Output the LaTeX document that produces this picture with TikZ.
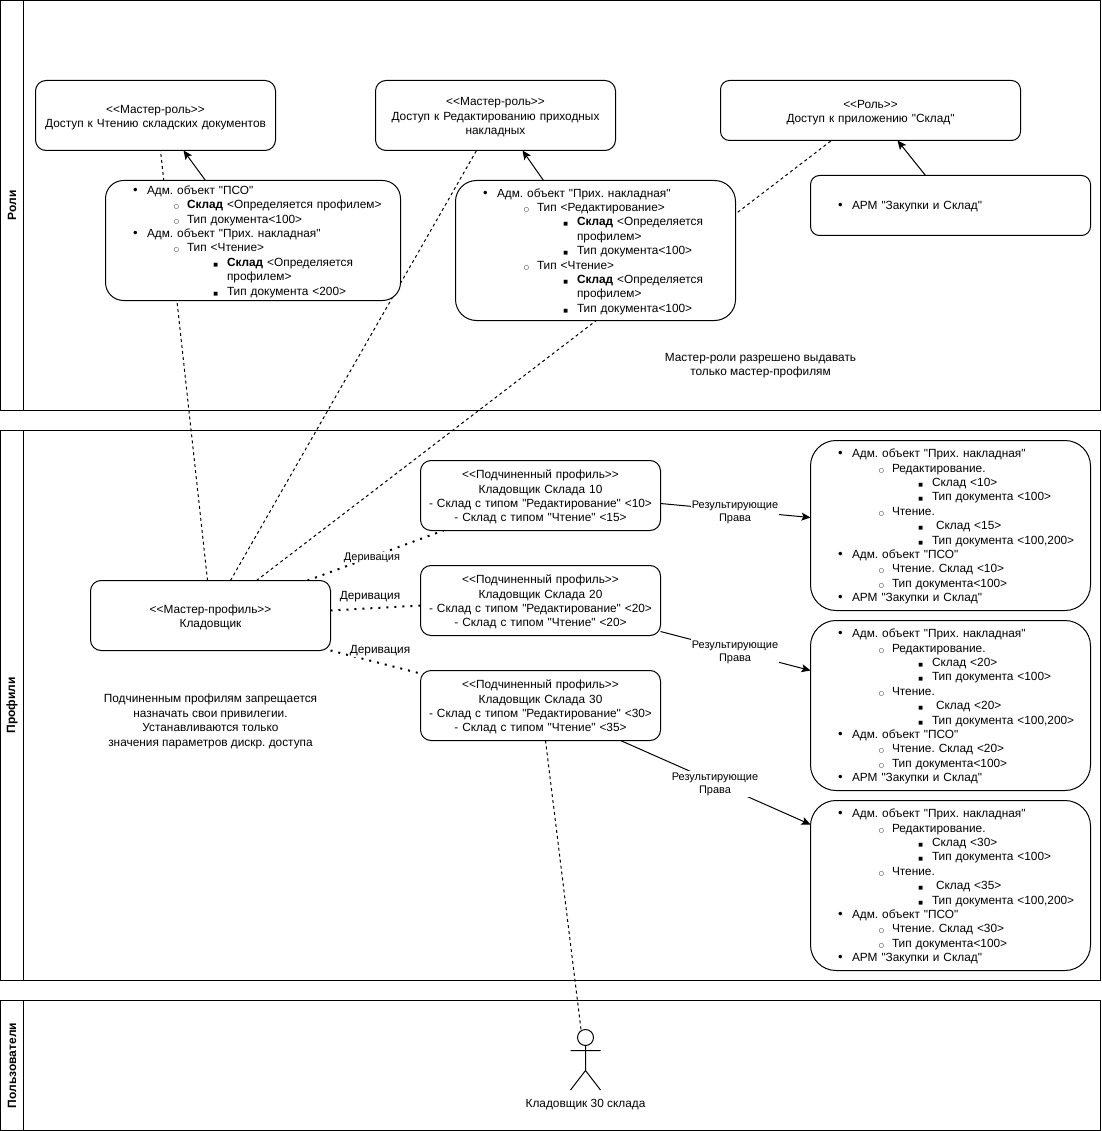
\documentclass[tikz,border=0pt]{standalone}
\usepackage{fontspec}
\newfontfamily\labelfam{Liberation Sans}
\newfontfamily\symfont{DejaVu Sans}
\usetikzlibrary{arrows.meta,backgrounds}

\newcommand{\lstA}[1]{\par\noindent\hspace*{41.5pt}\llap{{\symfont\fontsize{12}{12}\selectfont •}\hspace{8pt}}#1}
\newcommand{\lstB}[1]{\par\noindent\hspace*{81.5pt}\llap{{\symfont\fontsize{6}{6}\selectfont ○}\hspace{8pt}}#1}
\newcommand{\lstC}[1]{\par\noindent\hspace*{121.5pt}\llap{{\symfont\fontsize{5}{5}\selectfont ■}\hspace{9pt}}#1}
\newcommand{\lstD}[1]{\par\noindent\hspace*{121.5pt}#1}

\tikzset{
    txt/.style={font=\labelfam\fontsize{11.85}{14.4}\selectfont, align=center, inner sep=0pt, outer sep=0pt},
    edgetxt/.style={txt, font=\labelfam\fontsize{11}{13.2}\selectfont, fill=white, inner sep=1pt},
    box/.style={txt, draw, fill=white, line width=1pt, rounded corners=#1},
    midbox/.style={execute at begin node={\rule{0pt}{12pt}}},
    lst/.style={txt, align=left, execute at begin node={\vspace*{-3.5pt}}},
    lane/.style={draw, line width=1pt, inner sep=0pt, outer sep=0pt},
    lanehead/.style={lane, font=\labelfam\bfseries\fontsize{12}{14.4}\selectfont, rotate=90, minimum height=23},
    dashline/.style={line width=1pt, dash pattern=on 3pt off 3pt},
    dotline/.style={line width=2pt, dash pattern=on 2pt off 6pt},
    arrowline/.style={line width=1pt, -{Stealth[length=9pt,width=8pt,inset=2pt]}}
}

\begin{document}
\frenchspacing
\begin{tikzpicture}[x=1pt,y=-1pt]
    \useasboundingbox (0,0) rectangle (1101,1131);

    % swimlanes
    \node[lane, minimum width=1100, minimum height=410] (laneRoles) at (550.5,205.5) {};
    \node[lanehead, minimum width=410] (headRoles) at (12,205.5) {Роли};
    \node[lane, minimum width=1100, minimum height=550] (laneProfiles) at (550.5,705.5) {};
    \node[lanehead, minimum width=550] (headProfiles) at (12,705.5) {Профили};
    \node[lane, minimum width=1100, minimum height=130] (laneUsers) at (550.5,1065.5) {};
    \node[lanehead, minimum width=130] (headUsers) at (12,1065.5) {Пользователи};

    % roles
    \node[box=10.5, midbox, text width=240, minimum height=70] (roleRead) at (155.5,115.5) {<<Мастер-роль>>\\Доступ к Чтению складских документов};
    \node[box=10.5, midbox, text width=240, minimum height=70] (roleEdit) at (495.5,115.5) {<<Мастер-роль>>\\Доступ к Редактированию приходных\\накладных};
    \node[box=9, midbox, text width=300, minimum height=60] (roleApp) at (870.5,110.5) {<<Роль>>\\Доступ к приложению "Склад"};

    \node[box=18, lst, text width=295, minimum height=120] (privRead) at (253,240.5) {%
        \lstA{Адм. объект "ПСО"}
        \lstB{\textbf{Склад} <Определяется профилем>}
        \lstB{Тип документа<100>}
        \lstA{Адм. объект "Прих. накладная"}
        \lstB{Тип <Чтение>}
        \lstC{\textbf{Склад} <Определяется}
        \lstD{профилем>}
        \lstC{Тип документа <200>}};
    \node[box=21, lst, text width=280, minimum height=140] (privEdit) at (595.5,250.5) {%
        \lstA{Адм. объект "Прих. накладная"}
        \lstB{Тип <Редактирование>}
        \lstC{\textbf{Склад} <Определяется}
        \lstD{профилем>}
        \lstC{Тип документа<100>}
        \lstB{Тип <Чтение>}
        \lstC{\textbf{Склад} <Определяется}
        \lstD{профилем>}
        \lstC{Тип документа<100>}};
    \node[box=9, lst, text width=280, minimum height=60] (privApp) at (950.5,205.5) {%
        \lstA{АРМ "Закупки и Склад"}};

    \node[txt] (noteRoles) at (760.5,365.5) {Мастер-роли разрешено выдавать\\только мастер-профилям};

    % profiles
    \node[box=10.5, midbox, text width=240, minimum height=70] (master) at (210.5,615.5) {<<Мастер-профиль>>\\Кладовщик};
    \node[box=10.5, midbox, text width=240, minimum height=70] (sub10) at (540.5,495.5) {<<Подчиненный профиль>>\\Кладовщик Склада 10\\- Склад с типом "Редактирование" <10>\\- Склад с типом "Чтение" <15>};
    \node[box=10.5, midbox, text width=240, minimum height=70] (sub20) at (540.5,600.5) {<<Подчиненный профиль>>\\Кладовщик Склада 20\\- Склад с типом "Редактирование" <20>\\- Склад с типом "Чтение" <20>};
    \node[box=10.5, midbox, text width=240, minimum height=70] (sub30) at (540.5,705.5) {<<Подчиненный профиль>>\\Кладовщик Склада 30\\- Склад с типом "Редактирование" <30>\\- Склад с типом "Чтение" <35>};

    \node[box=25.5, lst, text width=280, minimum height=170] (res10) at (950.5,525.5) {%
        \lstA{Адм. объект "Прих. накладная"}
        \lstB{Редактирование.}
        \lstC{Склад <10>}
        \lstC{Тип документа <100>}
        \lstB{Чтение.}
        \lstC{\hspace*{4pt}Склад <15>}
        \lstC{Тип документа <100,200>}
        \lstA{Адм. объект "ПСО"}
        \lstB{Чтение. Склад <10>}
        \lstB{Тип документа<100>}
        \lstA{АРМ "Закупки и Склад"}};
    \node[box=25.5, lst, text width=280, minimum height=170] (res20) at (950.5,705.5) {%
        \lstA{Адм. объект "Прих. накладная"}
        \lstB{Редактирование.}
        \lstC{Склад <20>}
        \lstC{Тип документа <100>}
        \lstB{Чтение.}
        \lstC{\hspace*{4pt}Склад <20>}
        \lstC{Тип документа <100,200>}
        \lstA{Адм. объект "ПСО"}
        \lstB{Чтение. Склад <20>}
        \lstB{Тип документа<100>}
        \lstA{АРМ "Закупки и Склад"}};
    \node[box=25.5, lst, text width=280, minimum height=170] (res30) at (950.5,885.5) {%
        \lstA{Адм. объект "Прих. накладная"}
        \lstB{Редактирование.}
        \lstC{Склад <30>}
        \lstC{Тип документа <100>}
        \lstB{Чтение.}
        \lstC{\hspace*{4pt}Склад <35>}
        \lstC{Тип документа <100,200>}
        \lstA{Адм. объект "ПСО"}
        \lstB{Чтение. Склад <30>}
        \lstB{Тип документа<100>}
        \lstA{АРМ "Закупки и Склад"}};

    \node[txt] (noteProfiles) at (210.5,721.5) {Подчиненным профилям запрещается\\назначать свои привилегии.\\Устанавливаются только\\значения параметров дискр. доступа};

    % user
    \node[draw, circle, line width=1pt, minimum size=16, inner sep=0pt, outer sep=0pt] (userHead) at (585.5,1037.5) {};
    \node[txt] (userName) at (585.5,1105) {Кладовщик 30 склада};
    \draw[line width=1pt] (userHead.south) -- ++(0,25) coordinate (userHip)
        (570.5,1050.5) -- (600.5,1050.5)
        (570.5,1090) -- (userHip) -- (600.5,1090);

    % connectors
    \begin{scope}[on background layer]
        \draw[dashline] ([xshift=-3]master.north) -- ([xshift=5]roleRead.south);
        \draw[dashline] ([xshift=20]master.north) -- ([xshift=-19]roleEdit.south);
        \draw[dashline] ([xshift=46]master.north) -- ([xshift=-39]roleApp.south);
        \draw[dashline] ([xshift=5]sub30.south) -- ([xshift=-4.5]userHead.north);

        \draw[dotline] ([xshift=97]master.north) -- ([xshift=-97]sub10.south);
        \draw[dotline] ([yshift=5]master.east) -- ([yshift=-5]sub20.west);
        \draw[dotline] ([yshift=-35]master.east) -- ([yshift=32]sub30.west);

        \draw[arrowline] ([xshift=-47.5]privRead.north) -- ([xshift=28]roleRead.south);
        \draw[arrowline] ([xshift=-52]privEdit.north) -- ([xshift=27]roleEdit.south);
        \draw[arrowline] ([xshift=-25]privApp.north) -- ([xshift=27]roleApp.south);

        \draw[arrowline] ([yshift=-8]sub10.east) -- ([yshift=8]res10.west);
        \draw[arrowline] ([yshift=-31]sub20.east) -- ([yshift=35]res20.west);
        \draw[arrowline] ([xshift=80]sub30.south) -- ([yshift=61]res30.west);
    \end{scope}

    % labels
    \node[edgetxt] (lblDeriv10) at (372,557.5) {Деривация};
    \node[txt] (lblDeriv20) at (370,596.5) {Деривация};
    \node[txt, fill=white, inner sep=1pt] (lblDeriv30) at (380,651) {Деривация};
    \node[edgetxt] (lblRes10) at (735,512) {Результирующие\\Права};
    \node[edgetxt] (lblRes20) at (735,652) {Результирующие\\Права};
    \node[edgetxt] (lblRes30) at (715,784) {Результирующие\\Права};
\end{tikzpicture}
\end{document}
